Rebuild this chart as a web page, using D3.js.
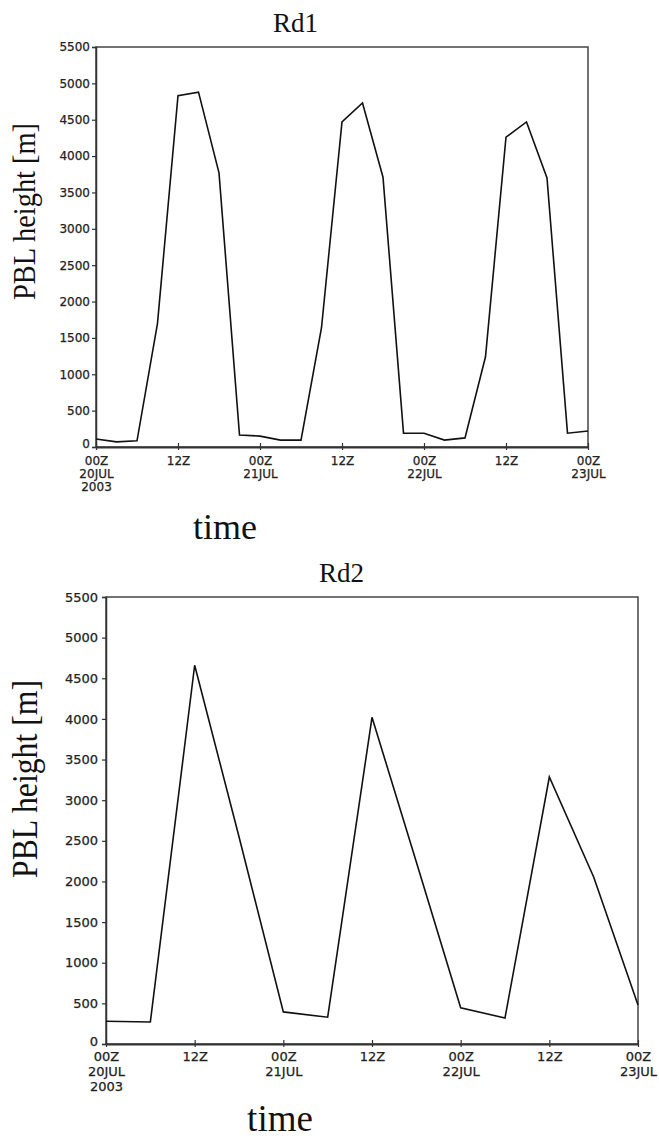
<!DOCTYPE html>
<html>
<head>
<meta charset="utf-8">
<script src="https://cdn.jsdelivr.net/npm/d3@7"></script>
<style>
  html, body { margin: 0; padding: 0; background: #fff; }
  svg { display: block; }
</style>
</head>
<body>
<svg id="chart" width="659" height="1141"></svg>
<script>
// ---- data ----
const hoursRd1 = [0,3,6,9,12,15,18,21,24,27,30,33,36,39,42,45,48,51,54,57,60,63,66,69,72];
const pblRd1   = [110,70,85,1700,4830,4880,3770,165,150,95,95,1640,4470,4730,3710,190,190,95,125,1240,4260,4470,3700,190,220];

const hoursRd2 = [0,6,12,18,24,30,36,42,48,54,60,66,72];
const pblRd2   = [280,270,4660,2550,395,330,4020,2240,445,320,3285,2055,480];

const xTickHours  = [0,12,24,36,48,60,72];
const xTickLabels = [["00Z","20JUL","2003"],["12Z"],["00Z","21JUL"],["12Z"],["00Z","22JUL"],["12Z"],["00Z","23JUL"]];
const yTickValues = [0,500,1000,1500,2000,2500,3000,3500,4000,4500,5000,5500];

const titles = ["Rd1","Rd2"];
const yTitle = "PBL height [m]";
const xTitle = "time";

// ---- layout ----
const panels = [
  { hours: hoursRd1, values: pblRd1, title: titles[0],
    left: 96, right: 588, top: 47, bottom: 447,
    titleX: 295.5, titleY: 32, titleSize: 27,
    yLabX: 35, yLabY: 211.5, yLabSize: 32, yLabLen: 177,
    xLabX: 225, xLabY: 539, xLabSize: 36,
    tickFont: 12, tickGap: 6, xl0: 465, xlStep: 13 },
  { hours: hoursRd2, values: pblRd2, title: titles[1],
    left: 106, right: 638, top: 597, bottom: 1044,
    titleX: 341.5, titleY: 582, titleSize: 27,
    yLabX: 37, yLabY: 779, yLabSize: 36, yLabLen: 198,
    xLabX: 280, xLabY: 1131, xLabSize: 37,
    tickFont: 13, tickGap: 8, xl0: 1061, xlStep: 15 }
];

const svg = d3.select("#chart");

panels.forEach(p => {
  const x = d3.scaleLinear().domain([0, 72]).range([p.left, p.right]);
  const y = d3.scaleLinear().domain([0, 5500]).range([p.bottom, p.top]);
  const g = svg.append("g");

  // frame
  g.append("rect")
    .attr("x", p.left).attr("y", p.top)
    .attr("width", p.right - p.left).attr("height", p.bottom - p.top)
    .attr("fill", "none").attr("stroke", "#444").attr("stroke-width", 1.5);

  // y axis
  const ya = g.append("g")
    .attr("transform", `translate(${p.left},0)`)
    .call(d3.axisLeft(y).tickValues(yTickValues).tickSize(4).tickPadding(p.tickGap - 4).tickFormat(d3.format("d")));
  ya.select(".domain").attr("stroke", "#333").attr("stroke-width", 1.5);
  ya.selectAll(".tick line").attr("stroke", "#333").attr("stroke-width", 1.2);
  ya.selectAll(".tick text")
    .attr("font-family", "DejaVu Sans").attr("font-size", p.tickFont)
    .attr("fill", "#222").attr("stroke", "#222").attr("stroke-width", 0.25)
    .attr("y", d => d === 0 ? -3 : 0);

  // x axis
  const xa = g.append("g")
    .attr("transform", `translate(0,${p.bottom})`)
    .call(d3.axisBottom(x).tickValues(xTickHours).tickSizeInner(3).tickSizeOuter(0).tickFormat(""));
  xa.select(".domain").attr("stroke", "#333").attr("stroke-width", 2);
  xa.selectAll(".tick line").attr("y1", -4).attr("y2", 3).attr("stroke", "#333").attr("stroke-width", 1.2);
  xa.selectAll(".tick").each(function(d, i) {
    const lines = xTickLabels[i];
    const t = d3.select(this).append("text")
      .attr("text-anchor", "middle")
      .attr("font-family", "DejaVu Sans").attr("font-size", p.tickFont)
      .attr("fill", "#222").attr("stroke", "#222").attr("stroke-width", 0.25);
    lines.forEach((s, k) => {
      t.append("tspan").attr("x", 0).attr("y", p.xl0 - p.bottom + k * p.xlStep).text(s);
    });
  });

  // data line
  const line = d3.line().x((d, i) => x(p.hours[i])).y(d => y(d));
  g.append("path")
    .datum(p.values)
    .attr("d", line)
    .attr("fill", "none").attr("stroke", "#111").attr("stroke-width", 1.6)
    .attr("stroke-linejoin", "miter");

  // title
  g.append("text")
    .attr("x", p.titleX).attr("y", p.titleY)
    .attr("text-anchor", "middle")
    .attr("font-family", "Liberation Serif").attr("font-size", p.titleSize)
    .attr("fill", "#111").text(p.title);

  // y title
  g.append("text")
    .attr("transform", `translate(${p.yLabX},${p.yLabY}) rotate(-90)`)
    .attr("text-anchor", "middle")
    .attr("font-family", "Liberation Serif").attr("font-size", p.yLabSize)
    .attr("textLength", p.yLabLen).attr("lengthAdjust", "spacingAndGlyphs")
    .attr("fill", "#111").text(yTitle);

  // x title
  g.append("text")
    .attr("x", p.xLabX).attr("y", p.xLabY)
    .attr("text-anchor", "middle")
    .attr("font-family", "Liberation Serif").attr("font-size", p.xLabSize)
    .attr("fill", "#111").text(xTitle);
});
</script>
</body>
</html>
